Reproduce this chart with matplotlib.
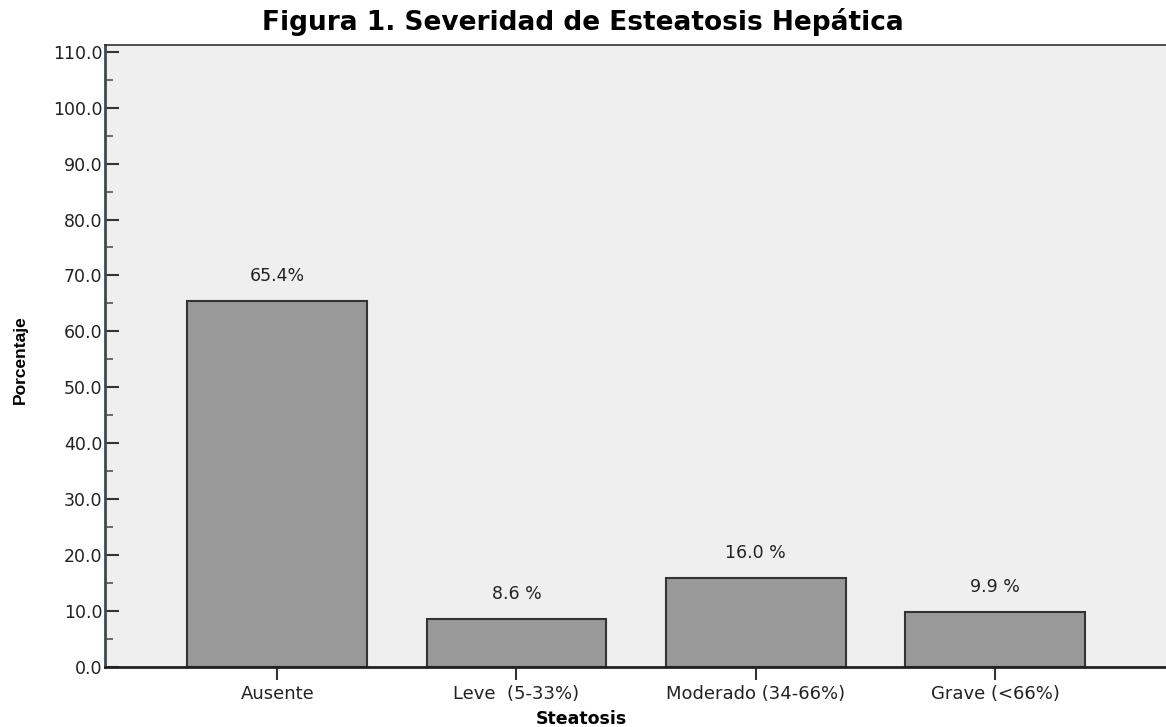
import matplotlib.pyplot as plt
import numpy as np

categorias = ['Ausente', 'Leve  (5-33%)', 'Moderado (34-66%)', 'Grave (<66%)']
porcentajes = [65.4, 8.6, 16.0, 9.9]
etiquetas = ['65.4%', '8.6 %', '16.0 %', '9.9 %']

plt.rcParams['font.family'] = ['DejaVu Sans']

fig = plt.figure(figsize=(11.66, 7.27), dpi=100)
ax = fig.add_axes([105/1166, 1-667/727, 1-105/1166, (667-45)/727])
ax.set_facecolor('#efefef')

x = np.arange(len(categorias))
bars = ax.bar(x, porcentajes, width=0.752, color='#999999', edgecolor='#333333', linewidth=1.5, zorder=2)

for b, et in zip(bars, etiquetas):
    ax.annotate(et, (b.get_x() + b.get_width()/2, b.get_height()), xytext=(0, 18),
                textcoords='offset points', ha='center', va='center', fontsize=12.5, color='#222222')

ax.set_xlim(-0.72, 3.715)
ax.set_ylim(0, 111.2)
ax.set_xticks(x)
ax.set_xticklabels(categorias, fontsize=13, color='#222222')
ax.set_yticks(np.arange(0, 111, 10))
ax.set_yticklabels(['%.1f' % v for v in np.arange(0, 111, 10)], fontsize=12.5, color='#222222')
ax.set_yticks(np.arange(5, 110, 10), minor=True)
ax.tick_params(axis='y', which='major', direction='in', length=10, width=1.5, color='#333333', pad=2)
ax.tick_params(axis='y', which='minor', direction='in', length=6, width=1.2, color='#555555')
ax.tick_params(axis='x', direction='out', length=9, width=1.5, color='#333333', pad=4)

ax.spines['left'].set_color('#3d4a52')
ax.spines['left'].set_linewidth(2)
ax.spines['bottom'].set_color('#222222')
ax.spines['bottom'].set_linewidth(2)
ax.spines['top'].set_color('#333333')
ax.spines['top'].set_linewidth(1.2)
ax.spines['right'].set_visible(False)

fig.text(0.5, 1-22/727, 'Figura 1. Severidad de Esteatosis Hepática', ha='center', va='center',
         fontsize=19, fontweight='bold')
fig.text(581/1166, 1-719/727, 'Steatosis', ha='center', va='center', fontsize=12.5, fontweight='bold')
fig.text(20/1166, 1-360/727, 'Porcentaje', ha='center', va='center', rotation=90,
         fontsize=12.5, fontweight='bold', family=['Liberation Sans Narrow', 'Liberation Sans'])

plt.savefig('out.png')
